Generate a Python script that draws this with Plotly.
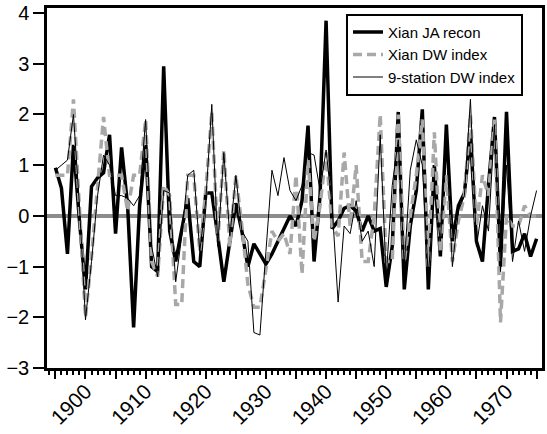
import plotly.graph_objects as go

years = list(range(1895, 1976))

xian_ja_recon = [
    0.95, 0.55, -0.75, 1.4, -0.1, -1.45, 0.58, 0.75, 0.85, 1.6,
    -0.35, 1.35, 0.2, -2.2, 0.2, 1.4, -1.0, -1.1, 2.95, -0.3,
    -0.9, -0.3, 0.35, -0.9, -1.0, 0.45, 0.45, -0.4, -1.3, -0.5,
    0.25, -0.3, -1.0, -0.55, -0.75, -0.95, -0.75, -0.5, -0.25, 0.0,
    -0.2, 0.3, 1.78, -0.9, 0.4, 3.85, -0.25, -0.1, 0.15, 0.2,
    0.1, -0.3, 0.0, -0.3, -0.25, -1.4, -0.6, 2.05, -1.45, -0.2,
    0.5, 2.1, -1.45, 1.0, -0.8, 1.8, -0.5, 0.2, 0.45, 1.6,
    -0.5, -0.9, 0.6, 1.95, -1.0, 2.05, -0.7, -0.65, -0.35, -0.8,
    -0.45,
]

xian_dw_index = [
    0.8, 0.8, 0.8, 2.3, 0.0, -2.0, -0.8, 0.6, 1.95, 0.8,
    0.8, 0.8, 0.1, 0.8, 0.8, 1.9, -0.9, -1.2, 0.6, 0.4,
    -1.75, -1.75, 0.8, 0.8, -0.7, 0.5, 2.05, -0.5, 1.3, -0.6,
    0.8, -0.2, -1.35, -1.8, -1.8, -1.0, -0.3, -0.5, -0.35, -0.75,
    0.8, -1.15, 1.1, -0.5, 0.2, 1.25, -0.2, -0.4, 1.25, -0.2,
    1.0, -0.9, -0.9, 0.0, 2.0, -0.9, -0.9, 2.0, -0.9, 0.0,
    0.8, 1.9, -1.0, 1.65, -0.7, 0.8, -0.9, -0.1, 0.4, 2.0,
    -0.2, 0.8, 0.4, 1.9, -2.1, 0.0, -0.2, -0.2, 0.2, 0.0,
    0.0,
]

station9_dw_index = [
    0.9, 1.0, 1.1, 2.0, 0.2, -2.05, -0.9, 0.4, 1.2, 1.0,
    0.4, 0.4, 0.35, 0.2, 0.4, 1.9, -0.6, -1.2, 0.5, 0.45,
    -1.3, -0.4, 0.8, 0.9, -0.7, 0.3, 2.2, -0.6, 1.25, -0.4,
    0.8, -0.3, -0.5, -2.3, -2.35, -0.7, 0.9, 0.4, 1.15, 0.5,
    0.3, 0.6, 1.25, 1.2, 0.5, 1.3, 0.2, -1.7, -0.2, -0.35,
    0.3, -0.5, -0.3, -1.0, 1.6, -1.2, 0.6, 1.5, -1.0, 0.9,
    1.5, 1.0, -1.2, 0.5, -0.5, 1.5, -1.0, 0.1, 0.4, 2.3,
    -0.6, 0.2, -0.3, 1.8, -1.1, 1.0, -0.9, -0.1, -0.7, 0.0,
    0.5,
]

x_tick_vals = list(range(1895, 1980, 5))
x_tick_text = [str(v) if v % 10 == 0 else "" for v in x_tick_vals]
y_tick_vals = [-3, -2, -1, 0, 1, 2, 3, 4]

FONT = "Liberation Sans, Arial, Helvetica, sans-serif"

fig = go.Figure()
fig.add_trace(go.Scatter(
    x=years, y=xian_ja_recon, mode="lines", name="Xian JA recon",
    line=dict(color="black", width=3.5),
))
fig.add_trace(go.Scatter(
    x=years, y=xian_dw_index, mode="lines", name="Xian DW index",
    line=dict(color="#a8a8a8", width=3.5, dash="9px,5px"),
))
fig.add_trace(go.Scatter(
    x=years, y=station9_dw_index, mode="lines", name="9-station DW index",
    line=dict(color="black", width=1),
))

fig.add_hline(y=0, line=dict(color="#8c8c8c", width=4), layer="below")

fig.update_layout(
    width=547, height=434,
    margin=dict(l=47, r=2, t=7, b=66),
    paper_bgcolor="white", plot_bgcolor="white",
    font=dict(family=FONT, color="black"),
    showlegend=True,
    legend=dict(
        x=0.604, y=0.984, xanchor="left", yanchor="top",
        bgcolor="white", bordercolor="black", borderwidth=2,
        font=dict(size=15, family=FONT, color="black"),
        tracegroupgap=0,
    ),
    xaxis=dict(
        range=[1893.6, 1975.9],
        tickmode="array", tickvals=x_tick_vals, ticktext=x_tick_text,
        tickangle=-45, tickfont=dict(size=21, family=FONT),
        ticklabelstandoff=-8,
        ticks="outside", ticklen=8, tickwidth=2, tickcolor="black",
        minor=dict(tickmode="linear", tick0=1895, dtick=1, ticks="outside",
                   ticklen=4, tickwidth=1.5, tickcolor="black", showgrid=False),
        showgrid=False, zeroline=False,
        showline=True, linecolor="black", linewidth=2.5, mirror=True,
    ),
    yaxis=dict(
        range=[-3, 4.1],
        tickmode="array", tickvals=y_tick_vals,
        tickfont=dict(size=20, family=FONT),
        ticks="outside", ticklen=11, tickwidth=2, tickcolor="black",
        showgrid=False, zeroline=False,
        showline=True, linecolor="black", linewidth=2.5, mirror=True,
    ),
)

fig.write_html(
    "out.html",
    config={"displayModeBar": False},
    post_script="document.body.style.margin='0';document.body.style.padding='0';",
)
